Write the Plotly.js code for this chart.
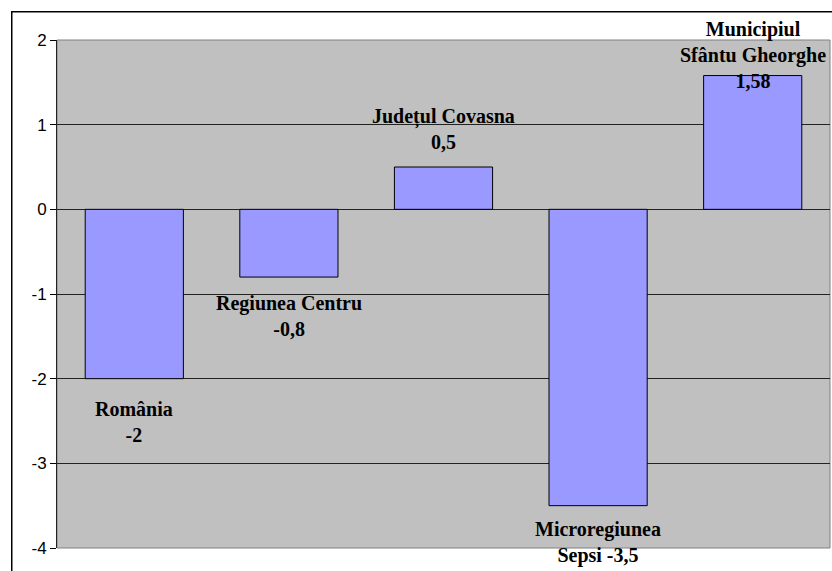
<!DOCTYPE html>
<html>
<head>
<meta charset="utf-8">
<script src="https://cdn.plot.ly/plotly-3.0.1.min.js"></script>
<style>html,body{margin:0;padding:0;background:#fff;}</style>
</head>
<body>
<div id="chart" style="width:832px;height:571px;"></div>
<script>
var categories = ["România", "Regiunea Centru", "Județul Covasna", "Microregiunea Sepsi", "Municipiul Sfântu Gheorghe"];
var values = [-2, -0.8, 0.5, -3.5, 1.58];
var labelText = ["România<br>-2", "Regiunea Centru<br>-0,8", "Județul Covasna<br>0,5", "Microregiunea<br>Sepsi -3,5", "Municipiul<br>Sfântu Gheorghe<br>1,58"];
var yTicks = [-4, -3, -2, -1, 0, 1, 2];

var labelFont = {family: "Liberation Serif, Times New Roman, serif", size: 20, color: "#000"};
var annYShift = [-17, -13, 12, -10, -18];

var annotations = categories.map(function (c, i) {
  var neg = values[i] < 0;
  return {
    x: c, y: values[i], xref: "x", yref: "y",
    text: "<b>" + labelText[i] + "</b>",
    showarrow: false,
    font: labelFont,
    xanchor: "center",
    yanchor: neg ? "top" : "bottom",
    yshift: annYShift[i]
  };
});

// outer chart-area frame
annotations.push({
  xref: "paper", yref: "paper", x: -0.0595, y: 1.057,
  xanchor: "left", yanchor: "top",
  text: " ", showarrow: false,
  width: 900, height: 620,
  bordercolor: "#000", borderwidth: 1.5, borderpad: 0,
  bgcolor: "rgba(0,0,0,0)"
});

var trace = {
  type: "bar",
  x: categories,
  y: values,
  marker: {color: "#9999FF", line: {color: "#000", width: 1}},
  hoverinfo: "none"
};

var layout = {
  width: 832, height: 571,
  margin: {l: 57, r: 2, t: 40, b: 23},
  paper_bgcolor: "#fff",
  plot_bgcolor: "#C0C0C0",
  bargap: 0.365,
  showlegend: false,
  xaxis: {
    type: "category",
    showticklabels: false,
    ticks: "",
    showgrid: false,
    zeroline: false,
    showline: false,
    range: [-0.5, 4.5]
  },
  yaxis: {
    range: [-4, 2],
    tickvals: yTicks,
    ticktext: yTicks.map(String),
    ticks: "outside",
    ticklen: 6,
    tickcolor: "#000",
    tickfont: {family: "Liberation Sans, Arial, sans-serif", size: 17, color: "#000"},
    showgrid: true,
    gridcolor: "#222",
    gridwidth: 1,
    zeroline: false,
    showline: true,
    linecolor: "#222",
    linewidth: 1
  },
  annotations: annotations,
  shapes: [
    {type: "rect", xref: "paper", yref: "paper", x0: 0, x1: 1, y0: 0, y1: 1,
     line: {color: "#808080", width: 1}, layer: "below"}
  ]
};

Plotly.newPlot("chart", [trace], layout, {displayModeBar: false, staticPlot: true});
</script>
</body>
</html>
